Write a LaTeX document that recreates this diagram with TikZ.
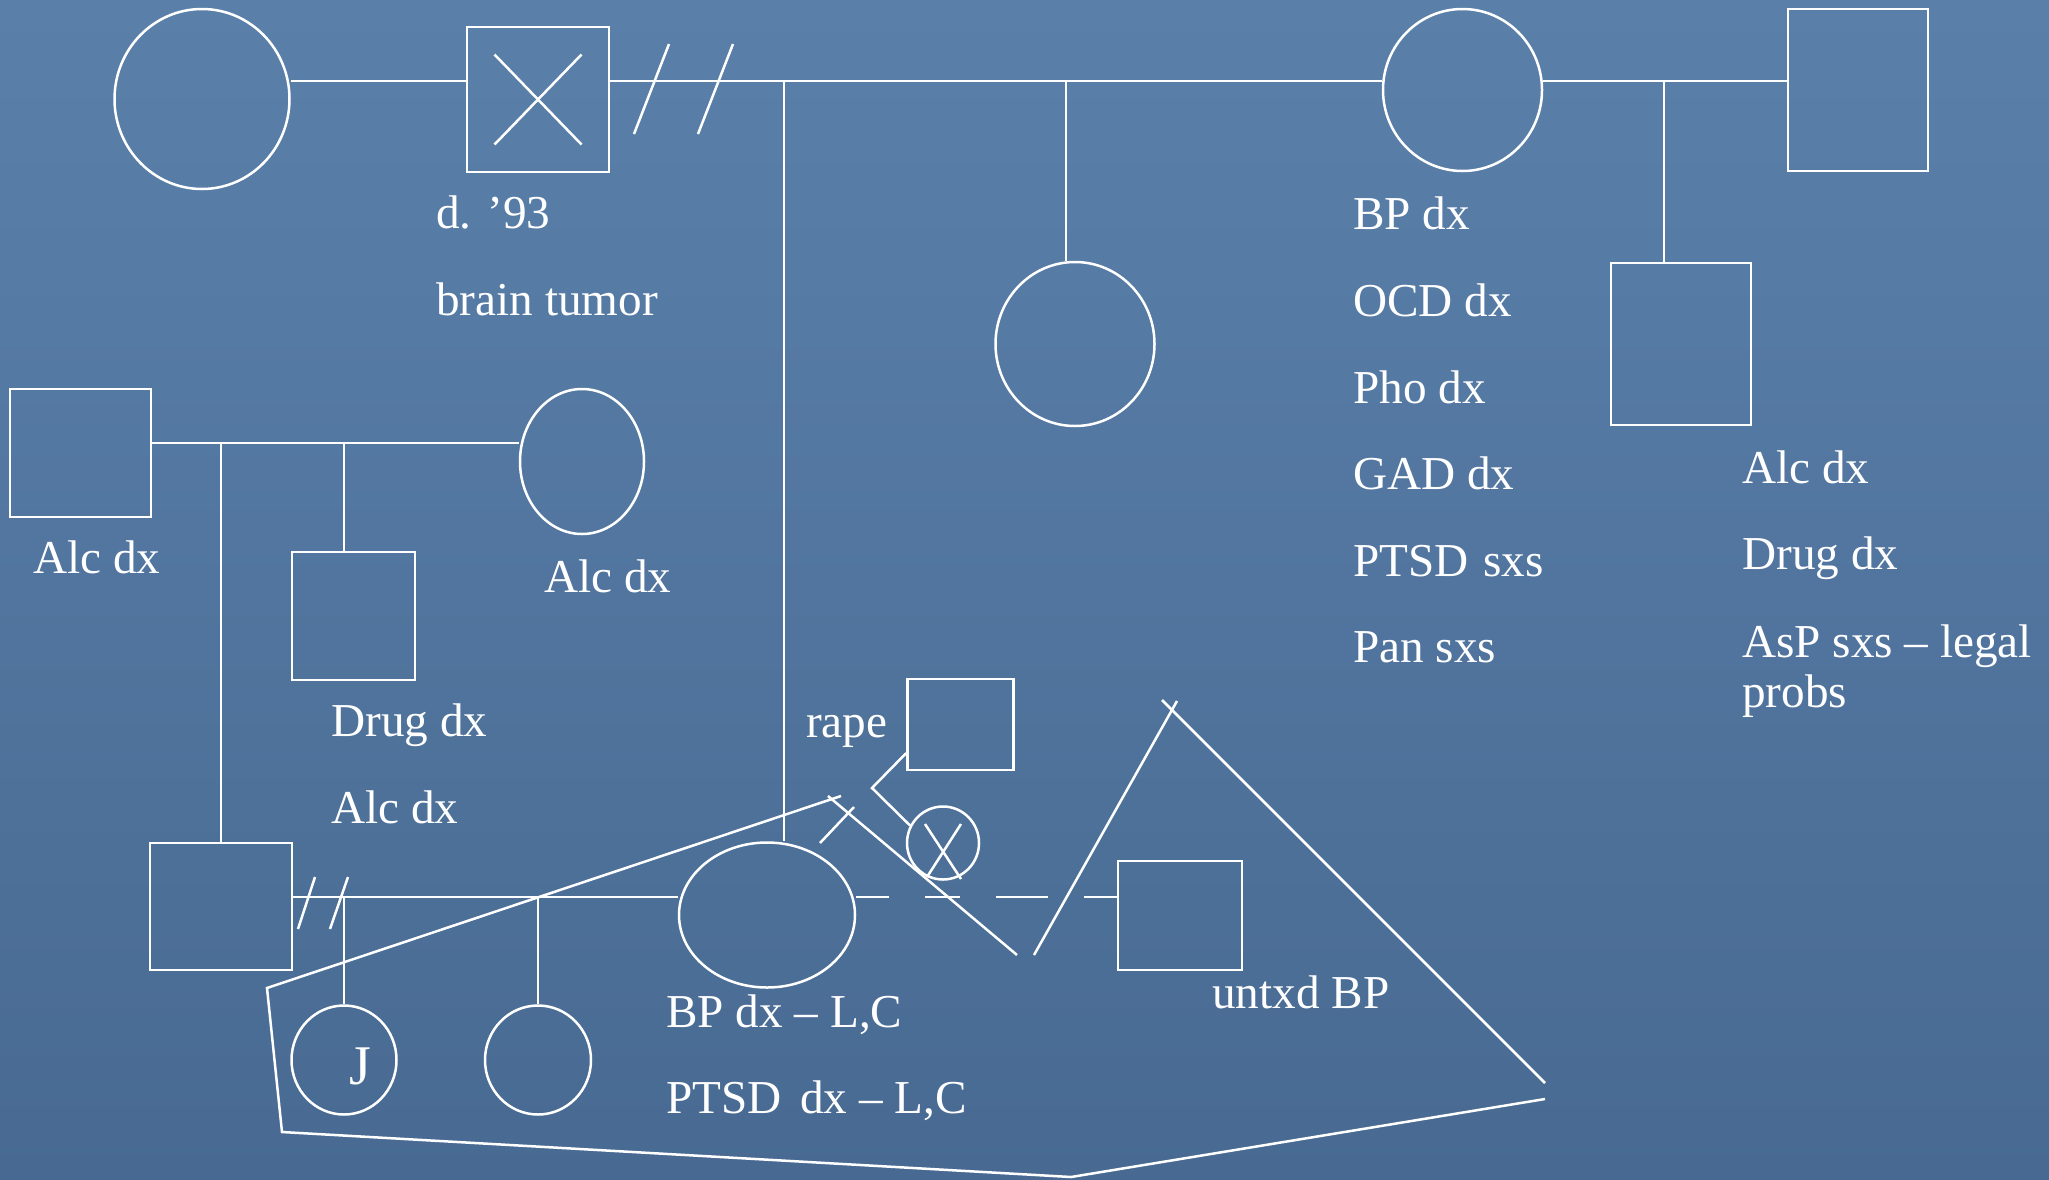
\documentclass[tikz,border=0pt]{standalone}
\usepackage{fontspec}
\setmainfont{Liberation Serif}
\usetikzlibrary{calc,shapes.geometric}
\definecolor{bgtop}{RGB}{90,128,170}
\definecolor{bgmid}{RGB}{85,121,162}
\definecolor{bgbot}{RGB}{72,106,146}
\begin{document}
\begin{tikzpicture}[x=0.5pt,y=-0.5pt,line width=1.25pt,color=white,
  fem/.style={draw=white,ellipse,inner sep=0pt},
  mal/.style={draw=white,rectangle,inner sep=0pt},
  lbl/.style={text=white,font=\fontsize{23.6}{28}\selectfont,anchor=base west,inner sep=0pt}]
\useasboundingbox (0,0) rectangle (2049,1179);
\begin{scope}[y=0.5pt]
\fill[top color=bgtop,middle color=bgmid,bottom color=bgbot] (0,-1179) rectangle (2049,0);
\end{scope}
% top generation
\coordinate (L) at (0,81);
\node[fem,minimum width=87.5pt,minimum height=90pt] (pgm1) at (202,99) {};
\node[mal,minimum width=71pt,minimum height=72.5pt] (gf) at (538,99.5) {};
\draw ($(gf.center)+(-43.5,-45)$) -- ($(gf.center)+(43.5,45)$);
\draw ($(gf.center)+(-43.5,45)$) -- ($(gf.center)+(43.5,-45)$);
\node[fem,minimum width=79.5pt,minimum height=81pt] (gm) at (1462.5,90) {};
\node[mal,minimum width=70pt,minimum height=81pt] (sgf) at (1858,90) {};
\draw (pgm1.east |- L) -- (gf.west |- L);
\draw (gf.east |- L) -- (gm.west |- L);
\draw (gm.east |- L) -- (sgf.west |- L);
\draw (669,44) -- (634,134);
\draw (733,44) -- (698,134);
\coordinate (c1) at (784,81);
\coordinate (c2) at (1066,81);
\coordinate (c3) at (1664,81);
\node[fem,minimum width=79.5pt,minimum height=82pt] (aunt) at (1075,344) {};
\node[mal,minimum width=70pt,minimum height=81pt] (uncle) at (1681,344) {};
\draw (c2) -- (c2 |- aunt.north);
\draw (c3) -- (c3 |- uncle.north);
\node[fem,minimum width=88pt,minimum height=72.5pt] (mom) at (767,915) {};
\draw (c1) -- (c1 |- mom.north);
% paternal family
\coordinate (L2) at (0,443);
\node[mal,minimum width=70.5pt,minimum height=64pt] (pgf) at (80.5,453) {};
\node[fem,minimum width=62pt,minimum height=72.5pt] (pgm) at (582,461.5) {};
\draw (pgf.east |- L2) -- (pgm.west |- L2);
\node[mal,minimum width=61.5pt,minimum height=64pt] (pu) at (353.5,616) {};
\coordinate (c4) at (344,443);
\draw (c4) -- (c4 |- pu.north);
\node[mal,minimum width=71pt,minimum height=63.5pt] (dad) at (221,906.5) {};
\draw (dad.north |- L2) -- (dad.north);
% bottom generation
\coordinate (L3) at (0,897);
\draw (dad.east |- L3) -- (mom.west |- L3);
\draw (315,877) -- (298,929);
\draw (348,877) -- (330,929);
\node[fem,minimum width=52.5pt,minimum height=54.5pt] (J) at (344,1060) {};
\node[fem,minimum width=53pt,minimum height=54.5pt] (sib) at (538,1060) {};
\draw (J.north |- L3) -- (J.north);
\draw (sib.north |- L3) -- (sib.north);
\node[lbl,anchor=base,font=\fontsize{28}{32}\selectfont] (Jl) at (360,1084) {J};
\node[mal,minimum width=62pt,minimum height=54.5pt] (son) at (1180,915.5) {};
\draw[dash pattern=on 16.5pt off 18pt on 17.5pt off 18pt on 26pt off 18pt on 17pt off 0pt] (mom.east |- L3) -- (son.west |- L3);
\node[mal,minimum width=53pt,minimum height=45.5pt] (rape) at (960.5,724.5) {};
\node[fem,minimum width=36pt,minimum height=36.5pt] (ab) at (943,843) {};
\draw ($(rape.west)+(0,28.5)$) -- (872,788) -- (ab.152);
\draw ($(ab.center)+(-18,-19)$) -- ($(ab.center)+(18,36)$);
\draw ($(ab.center)+(18,-19)$) -- ($(ab.center)+(-16,34)$);
% household outline
\draw (841,796) -- (267,988) -- (282,1132) -- (1071,1177) -- (1545,1099);
\draw (1545,1083) -- (1162,700);
\draw (1177,701) -- (1034,955);
\draw (828,796) -- (1017,955);
\draw (854,807) -- (820,843);
% labels
\node[lbl] (t1) at (435,228) {d. ’93};
\node[lbl] (t2) at (435,315) {brain tumor};
\node[lbl] (m1) at (1352,229) {BP dx};
\node[lbl] (m2) at (1352,316) {OCD dx};
\node[lbl] (m3) at (1352,403) {Pho dx};
\node[lbl] (m4) at (1352,489) {GAD dx};
\node[lbl] (m5) at (1352,576) {PTSD\hspace{0.31em}sxs};
\node[lbl] (m6) at (1352,662) {Pan sxs};
\node[lbl] (u1) at (1741,483) {Alc dx};
\node[lbl] (u2) at (1741,569) {Drug dx};
\node[lbl] (u3) at (1741,657) {AsP sxs – legal};
\node[lbl] (u4) at (1741,707) {probs};
\node[lbl] (p1) at (32,573) {Alc dx};
\node[lbl] (p2) at (543,592) {Alc dx};
\node[lbl] (p3) at (330,736) {Drug dx};
\node[lbl] (p4) at (330,823) {Alc dx};
\node[lbl] (r1) at (805,737) {rape};
\node[lbl] (s1) at (1211,1008) {untxd BP};
\node[lbl] (b1) at (665,1027) {BP dx – L,C};
\node[lbl] (b2) at (665,1113) {PTSD\hspace{0.39em}dx – L,C};
\end{tikzpicture}
\end{document}
